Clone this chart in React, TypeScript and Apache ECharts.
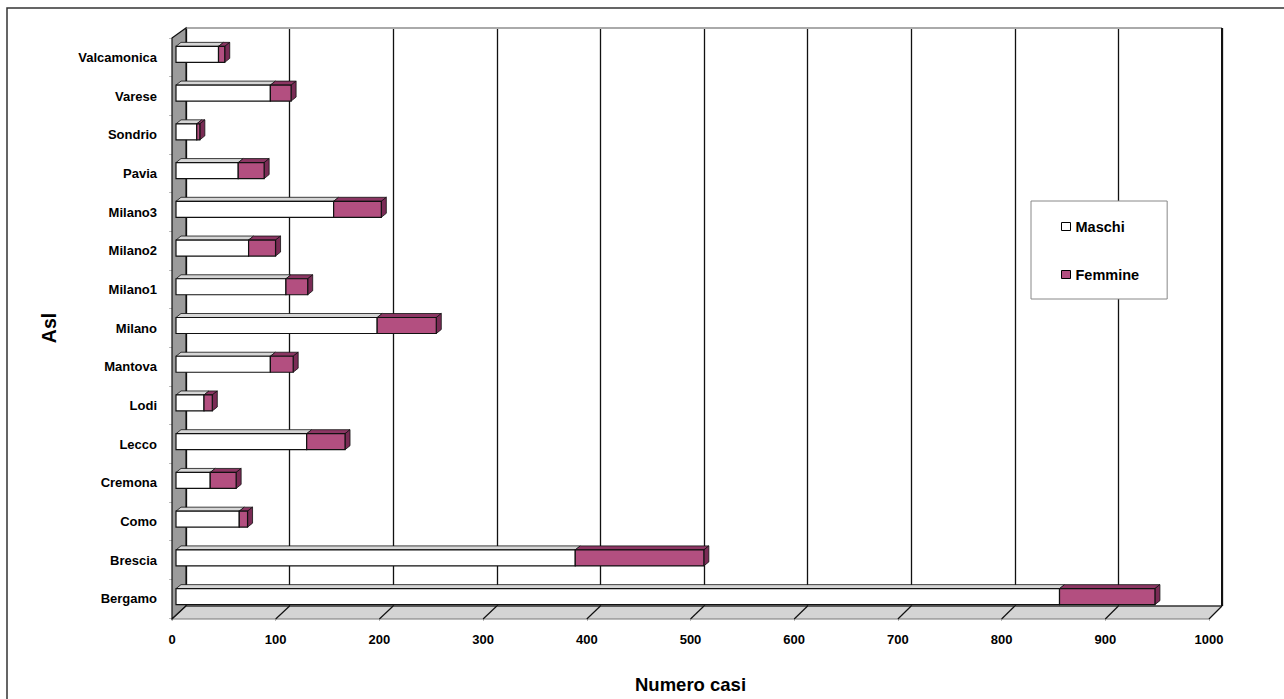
import React, { useEffect, useRef } from "react";
import * as echarts from "echarts";

const categories = [
  "Bergamo", "Brescia", "Como", "Cremona", "Lecco", "Lodi", "Mantova", "Milano",
  "Milano1", "Milano2", "Milano3", "Pavia", "Sondrio", "Varese", "Valcamonica",
];
const maschi = [852, 385, 61, 33, 126, 27, 91, 194, 106, 70, 152, 60, 20, 91, 41];
const femmine = [92, 124, 8, 25, 37, 8, 22, 57, 21, 26, 46, 25, 3, 20, 6];
const xTicks = [0, 100, 200, 300, 400, 500, 600, 700, 800, 900, 1000];

const FONT = "'Liberation Sans', Arial, sans-serif";

// layout (pixels)
const FRONT = { left: 172, top: 38, width: 1037, height: 581 };
const BACK = { left: 186, top: 28, width: 1036, height: 578 };
const BAR = { left: 176, top: 35, width: 1037, height: 581 };

export default function App() {
  const ref = useRef<HTMLDivElement>(null);
  useEffect(() => {
    const chart = echarts.init(ref.current!, null, { renderer: "svg" });

    const xMax = xTicks[xTicks.length - 1];
    const frontX = (v: number) => FRONT.left + (v / xMax) * FRONT.width;
    const backX = (v: number) => BACK.left + (v / xMax) * BACK.width;
    const frontBottom = FRONT.top + FRONT.height;
    const backBottom = BACK.top + BACK.height;

    const maschiData = maschi.map((m, i) => [i, 0, m]);
    const femmineData = femmine.map((f, i) => [i, maschi[i], maschi[i] + f]);

    const makeRender = (front: string, top: string, side: string | null) =>
      (params: any, api: any) => {
        const c = api.value(0);
        const s = api.value(1);
        const e = api.value(2);
        const p0 = api.coord([s, c]);
        const p1 = api.coord([e, c]);
        const h = 16;
        const dx = 5;
        const dy = 4;
        const yTop = p0[1] - h / 2;
        const yBot = p0[1] + h / 2;
        const children: any[] = [
          {
            type: "polygon",
            shape: { points: [[p0[0], yTop], [p1[0], yTop], [p1[0] + dx, yTop - dy], [p0[0] + dx, yTop - dy]] },
            style: { fill: top, stroke: "#111", lineWidth: 0.8 },
          },
        ];
        if (side) {
          children.push({
            type: "polygon",
            shape: { points: [[p1[0], yTop], [p1[0] + dx, yTop - dy], [p1[0] + dx, yBot - dy], [p1[0], yBot]] },
            style: { fill: side, stroke: "#111", lineWidth: 0.8 },
          });
        }
        children.push({
          type: "rect",
          shape: { x: p0[0], y: yTop, width: p1[0] - p0[0], height: h },
          style: { fill: front, stroke: "#111", lineWidth: 1.2 },
        });
        return { type: "group", children };
      };

    const graphics: any[] = [
      {
        type: "rect",
        shape: { x: 7, y: 8, width: 1300, height: 720 },
        style: { fill: "none", stroke: "#333", lineWidth: 1.5 },
        z: 0,
      },
      {
        type: "line",
        shape: { x1: BACK.left, y1: BACK.top, x2: BACK.left + BACK.width, y2: BACK.top },
        style: { stroke: "#aaa", lineWidth: 2 },
        z: 1,
      },
      {
        type: "polygon",
        shape: {
          points: [
            [FRONT.left, FRONT.top],
            [BACK.left, BACK.top],
            [BACK.left, backBottom],
            [FRONT.left, frontBottom],
          ],
        },
        style: { fill: "#9b9b9b", stroke: "#111", lineWidth: 1.2 },
        z: 1,
      },
      {
        type: "polygon",
        shape: {
          points: [
            [BACK.left, backBottom],
            [BACK.left + BACK.width, backBottom],
            [FRONT.left + FRONT.width, frontBottom],
            [FRONT.left, frontBottom],
          ],
        },
        style: { fill: "#d4d4d4", stroke: "#777", lineWidth: 1 },
        z: 1,
      },
      {
        type: "line",
        shape: { x1: BACK.left, y1: backBottom, x2: BACK.left + BACK.width, y2: backBottom },
        style: { stroke: "#111", lineWidth: 1.2 },
        z: 1,
      },
      {
        type: "line",
        shape: { x1: BACK.left + BACK.width, y1: BACK.top, x2: BACK.left + BACK.width, y2: backBottom },
        style: { stroke: "#111", lineWidth: 2 },
        z: 1,
      },
      ...xTicks.map((v) => ({
        type: "line",
        shape: { x1: backX(v), y1: backBottom, x2: frontX(v), y2: frontBottom },
        style: { stroke: "#111", lineWidth: 1.2 },
        z: 1,
      })),
    ];

    chart.setOption({
      animation: false,
      backgroundColor: "#fff",
      textStyle: { fontFamily: FONT },
      grid: [
        { ...FRONT, containLabel: false },
        { ...BACK, containLabel: false },
        { ...BAR, containLabel: false },
      ],
      xAxis: [
        {
          gridIndex: 0,
          type: "value",
          min: 0,
          max: xMax,
          interval: 100,
          axisLine: { show: true, lineStyle: { color: "#777", width: 1 } },
          axisTick: { show: true, length: 3, lineStyle: { color: "#bbb" } },
          axisLabel: {
            color: "#000",
            fontWeight: "bold",
            fontSize: 13,
            fontFamily: FONT,
            margin: 15,
            formatter: (v: number) => String(v),
          },
          splitLine: { show: false },
          name: "Numero casi",
          nameLocation: "middle",
          nameGap: 57,
          nameTextStyle: { color: "#000", fontWeight: "bold", fontSize: 18.5, fontFamily: FONT },
        },
        {
          gridIndex: 1,
          type: "value",
          min: 0,
          max: xMax,
          interval: 100,
          axisLine: { show: false },
          axisTick: { show: false },
          axisLabel: { show: false },
          splitLine: { show: true, lineStyle: { color: "#111", width: 1.3 } },
        },
        {
          gridIndex: 2,
          type: "value",
          min: 0,
          max: xMax,
          show: false,
        },
      ],
      yAxis: [
        {
          gridIndex: 0,
          type: "category",
          data: categories,
          axisLine: { show: false },
          axisTick: { show: true, length: 3, lineStyle: { color: "#bbb" } },
          axisLabel: { color: "#000", fontWeight: "bold", fontSize: 13, fontFamily: FONT, margin: 15 },
          name: "Asl",
          nameLocation: "middle",
          nameGap: 113,
          nameRotate: 90,
          nameTextStyle: { color: "#000", fontWeight: "bold", fontSize: 19.5, fontFamily: FONT },
        },
        { gridIndex: 1, type: "category", data: categories, show: false },
        { gridIndex: 2, type: "category", data: categories, show: false },
      ],
      legend: {
        orient: "vertical",
        left: 1031,
        top: 201,
        padding: [18, 28, 17, 30],
        itemGap: 33,
        itemWidth: 9,
        itemHeight: 8,
        backgroundColor: "#fff",
        borderColor: "#888",
        borderWidth: 1,
        textStyle: { color: "#000", fontWeight: "bold", fontSize: 14.5, fontFamily: FONT },
        data: [
          { name: "Maschi", icon: "rect", itemStyle: { color: "#fff", borderColor: "#000", borderWidth: 1 } },
          { name: "Femmine", icon: "rect", itemStyle: { color: "#b34f80", borderColor: "#000", borderWidth: 1 } },
        ],
      },
      graphic: graphics,
      series: [
        {
          name: "Maschi",
          type: "custom",
          xAxisIndex: 2,
          yAxisIndex: 2,
          z: 5,
          itemStyle: { color: "#fff", borderColor: "#000" },
          encode: { x: [1, 2], y: 0 },
          renderItem: makeRender("#ffffff", "#d6d6d6", null),
          data: maschiData,
        },
        {
          name: "Femmine",
          type: "custom",
          xAxisIndex: 2,
          yAxisIndex: 2,
          z: 6,
          itemStyle: { color: "#b34f80", borderColor: "#000" },
          encode: { x: [1, 2], y: 0 },
          renderItem: makeRender("#b34f80", "#8c3663", "#7a2b55"),
          data: femmineData,
        },
      ],
    });
    return () => chart.dispose();
  }, []);
  return (
    <div
      ref={ref}
      style={{ position: "fixed", left: 0, top: 0, width: 1284, height: 699 }}
    />
  );
}
